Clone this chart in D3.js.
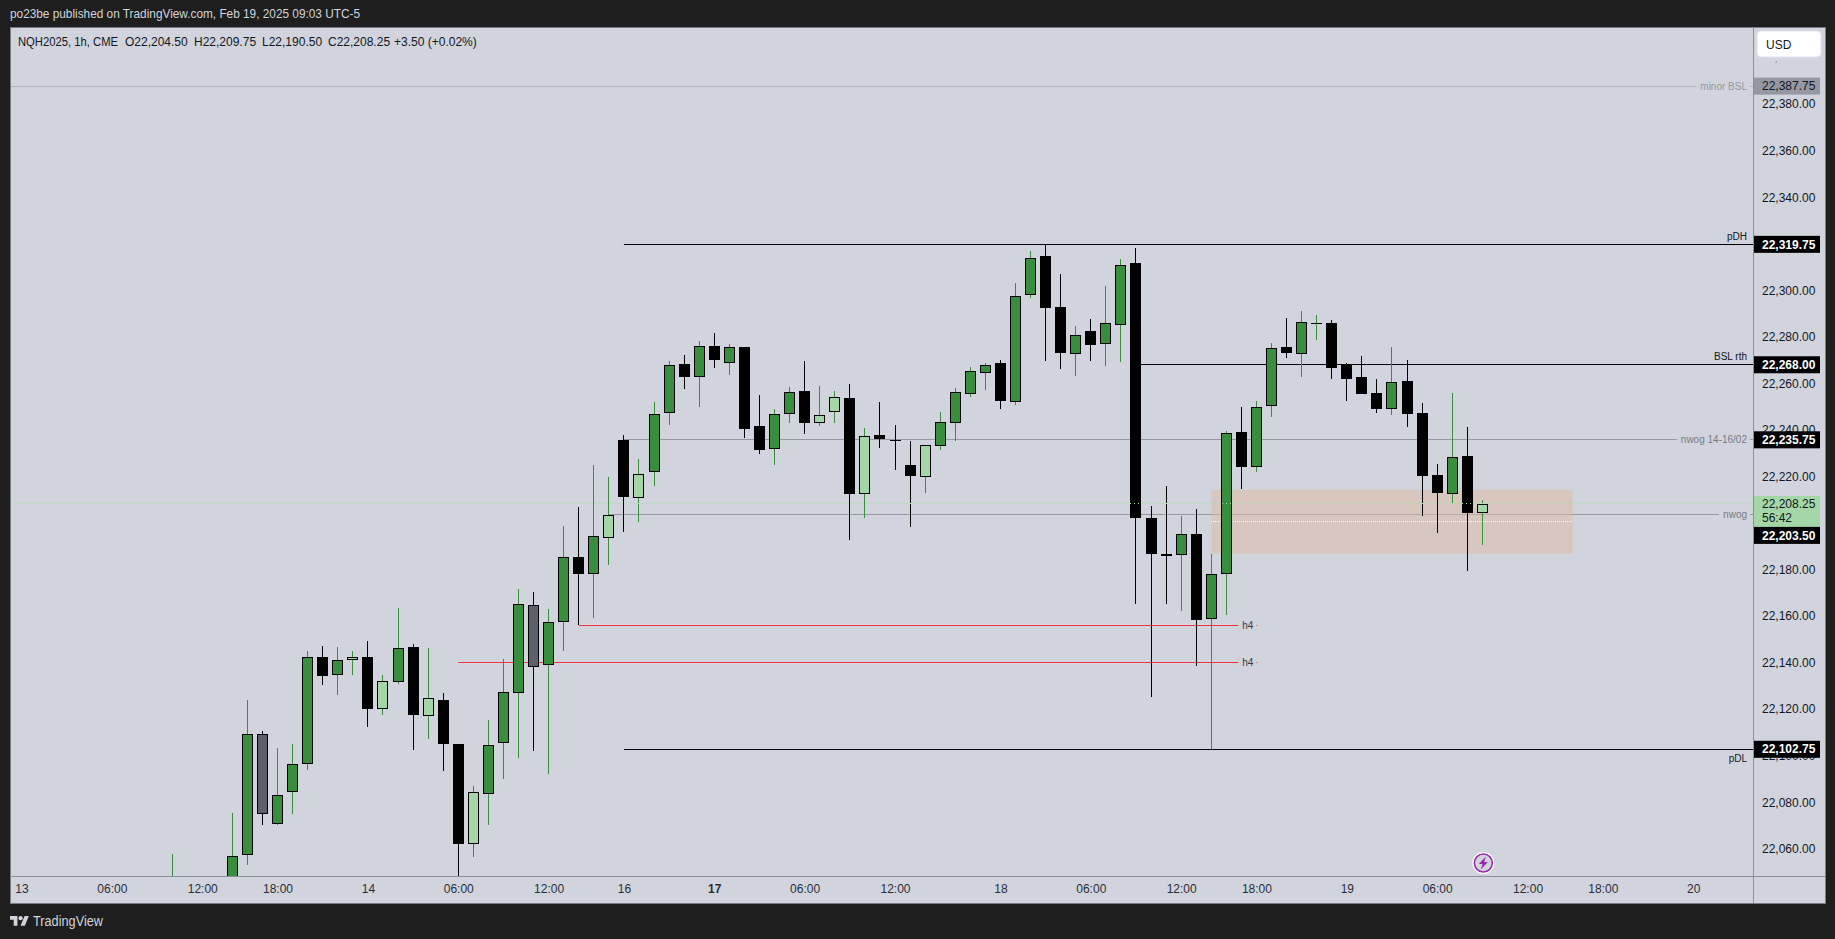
<!DOCTYPE html>
<html lang="en">
<head>
<meta charset="utf-8">
<title>NQH2025 1h</title>
<script src="https://cdn.jsdelivr.net/npm/d3@7"></script>
<style>
  html, body { margin: 0; padding: 0; background: #1e1e1e; overflow: hidden; }
  svg { display: block; }
  text { font-family: "Liberation Sans", sans-serif; }
</style>
</head>
<body>
<div id="chart"></div>
<script>
// bars 10..97, index counts trading hours from the 13th 00:00
var firstBar = 10;
var opens = [22030,22025,22020,22028,22035,22057.5,22109.5,22070.75,22084.5,22096.5,
  22142.5,22134.75,22141.25,22142.5,22120.25,22131.75,22146.75,22117.25,22124,22105,
  22062,22083.75,22105.25,22127,22164.75,22139,22157.5,22185.25,22178.25,22193.75,
  22235.5,22210.75,22221.75,22247.25,22268.25,22262.75,22276,22268.75,22275.75,22241.75,
  22232,22247,22256.75,22243,22247.75,22253.75,22212.5,22237.75,22235.5,22225,
  22219.75,22233.25,22243,22255.5,22264.5,22268.75,22252,22298,22314.75,22292.75,
  22272.75,22282.5,22276.75,22285.25,22311.75,22202.25,22186.75,22186.25,22195.25,22158.75,
  22178.25,22239,22224.25,22250.25,22275.75,22272.75,22285.75,22286,22267.75,22262.75,
  22255.75,22249,22261,22247.25,22220.5,22212.5,22228.75,22204.5];
var highs = [22057.75,22035,22030,22035,22075.25,22124,22110.5,22103.25,22105,22145,
  22147.25,22146.75,22145,22149.25,22134.75,22163.5,22148,22146.25,22127,22105,
  22087,22115.25,22141.5,22171.75,22170.25,22163,22198.75,22206.75,22225,22219.75,
  22237.75,22227.5,22252,22269.5,22272.25,22278.25,22281.75,22277,22275.75,22255,
  22249,22258.5,22269.5,22258.75,22256.75,22259.75,22240.75,22252,22242,22235.25,
  22233.5,22247.75,22258,22267,22268.75,22270,22303,22316.75,22319.75,22307,
  22284.75,22287.75,22301.75,22313.5,22318,22207.25,22215.75,22203,22206,22186.75,
  22239.5,22249.75,22252.5,22277.25,22288,22291,22289.25,22287.25,22268.75,22271.75,
  22261.75,22275.75,22270,22251.5,22225.25,22255.75,22241.25,22209.75];
var lows = [22020,22010,22010,22018,22030,22053,22070.25,22070.25,22075,22093.75,
  22130.25,22126,22134.75,22112.25,22117.5,22130.75,22102.5,22107.25,22093.5,22045,
  22056.5,22070.25,22090,22099,22102,22092,22145,22156,22159.25,22182,
  22196.25,22200.5,22215.75,22242,22257.5,22249.75,22266.5,22263.5,22236.5,22229.75,
  22225,22243,22238.25,22241.75,22243,22192.75,22202.25,22232.25,22222.75,22198.25,
  22212.75,22231.25,22235.25,22254,22257.25,22249,22250.75,22296.75,22269.5,22266.25,
  22263.25,22269.5,22267.5,22269.25,22165.25,22125.25,22165.25,22162.25,22138.5,22102.75,
  22160.5,22214.5,22222,22245.5,22270.75,22262.75,22278.75,22261.75,22252.5,22255.5,
  22247.25,22246.25,22241.25,22203,22195.75,22208.5,22179.25,22190.5];
var closes = [22040,22020,22028,22035,22056.75,22109.5,22074.75,22083,22096.25,22142.25,
  22134.25,22141,22142.25,22120,22132,22146.25,22117.5,22125,22105,22062,
  22084.25,22104.5,22127.25,22165,22138.25,22157.25,22185.25,22178.25,22194.25,22203.25,
  22211.25,22221.25,22246.75,22267.75,22262.75,22276.25,22270,22275.5,22240.25,22231.25,
  22246.75,22256.5,22243,22246.25,22254,22212.5,22237.25,22236,22235.25,22220,
  22233.5,22243.25,22256.5,22265.5,22267.75,22252.5,22297.5,22313.75,22292.25,22273,
  22281,22276.5,22285.75,22310.75,22202.25,22186.75,22185.75,22195.25,22158.25,22178.25,
  22238.5,22224,22249.75,22275,22273,22286.25,22285.75,22266.5,22261.75,22255.5,
  22249,22260.75,22246.75,22220,22212.75,22228.25,22204.25,22208.25];
var lightBars = [22,24,27,30,39,41,53,54,56,60,97];
var grayBars = [16,34];

// 22,200 and 22,320 sit fully behind the price labels, so they are left out
var priceTicks = [22060,22080,22100,22120,22140,22160,22180,22220,22240,22260,22280,22300,22340,22360,22380];
var timeTickBars = [0,6,12,17,23,29,35,40,46,52,58,65,71,77,82,88,94,100,105,111];
var timeTickLabels = ["13","06:00","12:00","18:00","14","06:00","12:00","16","17","06:00","12:00","18","06:00","12:00","18:00","19","06:00","12:00","18:00","20"];

var lastClose = 22208.25;
var zonePrices = [22186.75, 22214.25];
var zoneMid = 22200.75;
var zoneBars = [79, 103];

var w = 1835, h = 939;
var left = 10, right = 1825, top_ = 27, bottom = 903;
var paneRight = 1753, paneBottom = 876;

var x = d3.scaleLinear().domain([0, 111]).range([21.5, 1693.2]);
var y = d3.scaleLinear().domain([22048.3, 22413.15]).range([paneBottom, top_]);

var svg = d3.select("#chart").append("svg").attr("width", w).attr("height", h);

svg.append("rect").attr("width", w).attr("height", h).attr("fill", "#1e1e1e");
svg.append("rect")
  .attr("x", left + 0.5).attr("y", top_ + 0.5)
  .attr("width", right - left).attr("height", bottom - top_)
  .attr("fill", "#d1d4dc").attr("stroke", "#787b86");

svg.append("text").attr("x", 10).attr("y", 18).attr("fill", "#d1d4dc").attr("font-size", 13)
  .attr("textLength", 350).attr("lengthAdjust", "spacingAndGlyphs")
  .text("po23be published on TradingView.com, Feb 19, 2025 09:03 UTC-5");

// logo + wordmark at the bottom
svg.append("path")
  .attr("transform", "translate(10,914) scale(0.53)")
  .attr("fill", "#d1d4dc")
  .attr("d", "M14 22H7V11H0V4h14v18zM28 22h-8l7.5-18h8L28 22z");
svg.append("circle").attr("cx", 20.6).attr("cy", 918.2).attr("r", 2.1).attr("fill", "#d1d4dc");
svg.append("text").attr("x", 33).attr("y", 926).attr("fill", "#d1d4dc").attr("font-size", 14)
  .attr("textLength", 70).attr("lengthAdjust", "spacingAndGlyphs").text("TradingView");

svg.append("defs").append("clipPath").attr("id", "pane").append("rect")
  .attr("x", left + 1).attr("y", top_ + 1).attr("width", paneRight - left - 1).attr("height", paneBottom - top_ - 1);
var pane = svg.append("g").attr("clip-path", "url(#pane)");
var crisp = function(v) { return Math.floor(v) + 0.5; };

// horizontal level with an optional label; "inline" breaks the line around the label
function level(price, startX, endX, color, label, labelColor, mode, tail) {
  var ly = crisp(y(price));
  var t = tail === undefined ? 3 : tail;
  var lineEnd = endX;
  var tx = svg.append("text").attr("text-anchor", "end").attr("font-size", 10).attr("fill", labelColor).text(label);
  if (mode === "inline") {
    var textEnd = endX - t - 3;
    tx.attr("x", textEnd).attr("y", ly + 3.5);
    lineEnd = textEnd - tx.node().getComputedTextLength() - 4;
    pane.append("line").attr("x1", endX - t).attr("x2", endX).attr("y1", ly).attr("y2", ly).attr("stroke", color);
  } else if (mode === "above") {
    tx.attr("x", endX - 6).attr("y", ly - 5);
  } else {
    tx.attr("x", endX - 6).attr("y", ly + 12);
  }
  pane.append("line").attr("x1", startX).attr("x2", lineEnd).attr("y1", ly).attr("y2", ly).attr("stroke", color);
}

level(22387.75, left, paneRight, "#b2b5be", "minor BSL", "#9598a1", "inline");
level(22235.75, x(40), paneRight, "#9598a1", "nwog 14-16/02", "#787b86", "inline");
level(22203.5, x(39), paneRight, "#9598a1", "nwog", "#787b86", "inline");
level(22319.75, x(40), paneRight, "#000000", "pDH", "#131722", "above");
level(22268, x(74), paneRight, "#000000", "BSL rth", "#131722", "above");
level(22102.75, x(40), paneRight, "#000000", "pDL", "#131722", "below");
level(22156, x(37), x(82) + 1, "#f23645", "h4", "#363a45", "inline", 1);
level(22140.25, x(29), x(82) + 1, "#f23645", "h4", "#363a45", "inline", 1);

pane.append("rect")
  .attr("x", x(zoneBars[0])).attr("width", x(zoneBars[1]) - x(zoneBars[0]))
  .attr("y", y(zonePrices[1])).attr("height", y(zonePrices[0]) - y(zonePrices[1]))
  .attr("fill", "#deb9a2").attr("fill-opacity", 0.5);
pane.append("line")
  .attr("x1", Math.round(x(zoneBars[0]))).attr("x2", Math.round(x(zoneBars[1])))
  .attr("y1", crisp(y(zoneMid))).attr("y2", crisp(y(zoneMid)))
  .attr("stroke", "#ffffff").attr("stroke-dasharray", "1 1");

var bars = d3.range(opens.length).map(function(i) {
  return { bar: firstBar + i, o: opens[i], h: highs[i], l: lows[i], c: closes[i] };
});
var GREEN = "#388e3c", LIGHT = "#a5d6a7", GRAY = "#5d606b";

var candle = pane.selectAll("g.candle").data(bars).enter().append("g").attr("class", "candle")
  .attr("transform", function(d) { return "translate(" + Math.floor(x(d.bar)) + ",0)"; });
candle.append("line")
  .attr("x1", 0.5).attr("x2", 0.5)
  .attr("y1", function(d) { return Math.round(y(d.h)); })
  .attr("y2", function(d) { return Math.round(y(d.l)); })
  .attr("stroke", function(d) { return d.c >= d.o ? GREEN : "#000000"; });
// outer black box, inner fill
function bodyTop(d) { return Math.round(y(Math.max(d.o, d.c))); }
function bodyH(d) { return Math.max(1, Math.round(y(Math.min(d.o, d.c))) - bodyTop(d)); }
candle.append("rect")
  .attr("x", -5).attr("width", 11)
  .attr("y", bodyTop).attr("height", bodyH)
  .attr("fill", "#000000");
candle.filter(function(d) { return d.c >= d.o || grayBars.indexOf(d.bar) >= 0; }).append("rect")
  .attr("x", -4).attr("width", 9)
  .attr("y", function(d) { return bodyTop(d) + 1; })
  .attr("height", function(d) { return Math.max(0, bodyH(d) - 2); })
  .attr("fill", function(d) {
    if (grayBars.indexOf(d.bar) >= 0) return GRAY;
    return lightBars.indexOf(d.bar) >= 0 ? LIGHT : GREEN;
  });

pane.append("line")
  .attr("x1", left).attr("x2", paneRight)
  .attr("y1", crisp(y(lastClose))).attr("y2", crisp(y(lastClose)))
  .attr("stroke", LIGHT).attr("stroke-dasharray", "1 3");

// bolt marker under the last bar
var bolt = svg.append("g").attr("transform", "translate(" + (x(97) + 1) + ",863)");
bolt.append("circle").attr("r", 11).attr("fill", "#ffffff");
bolt.append("circle").attr("r", 9).attr("fill", "#d1d4dc").attr("stroke", "#9c27b0").attr("stroke-width", 1.5);
bolt.append("path").attr("d", "M2.5 -6.5L-4.5 1L-0.8 1L-2.5 6.5L4.5 -1L0.8 -1Z").attr("fill", "#9c27b0");

// axes
svg.append("line").attr("x1", paneRight + 0.5).attr("x2", paneRight + 0.5).attr("y1", top_).attr("y2", bottom).attr("stroke", "#8c8f99");
svg.append("line").attr("x1", left).attr("x2", right).attr("y1", paneBottom + 0.5).attr("y2", paneBottom + 0.5).attr("stroke", "#8c8f99");

var yAxis = svg.append("g")
  .attr("transform", "translate(" + paneRight + ",0)")
  .call(d3.axisRight(y).tickValues(priceTicks).tickSize(0).tickPadding(9).tickFormat(d3.format(",.2f")));
var xAxis = svg.append("g")
  .attr("transform", "translate(0," + paneBottom + ")")
  .call(d3.axisBottom(x).tickValues(timeTickBars).tickSize(0).tickPadding(8)
    .tickFormat(function(d) { return timeTickLabels[timeTickBars.indexOf(d)]; }));
yAxis.select(".domain").remove();
xAxis.select(".domain").remove();
yAxis.selectAll("text").attr("font-size", 12).attr("fill", "#131722").style("font-family", "'Liberation Sans', sans-serif");
xAxis.selectAll("text").attr("font-size", 12).attr("fill", "#2a2e39").style("font-family", "'Liberation Sans', sans-serif")
  .attr("font-weight", function(d) { return timeTickLabels[timeTickBars.indexOf(d)] === "17" ? "bold" : null; });

// legend line
var legendParts = ["NQH2025, 1h, CME", "O22,204.50", "H22,209.75", "L22,190.50", "C22,208.25", "+3.50 (+0.02%)"];
var legendX = [18, 125, 194, 262, 328, 394];
svg.selectAll("text.legend").data(legendParts).enter().append("text").attr("class", "legend")
  .attr("x", function(d, i) { return legendX[i]; }).attr("y", 45.5)
  .attr("font-size", 12).attr("fill", "#131722")
  .text(function(d) { return d; });
svg.select("text.legend").attr("textLength", 100).attr("lengthAdjust", "spacingAndGlyphs");

// USD button
svg.append("rect").attr("x", 1757).attr("y", 31).attr("width", 64).attr("height", 26).attr("rx", 4)
  .attr("fill", "#ffffff").attr("stroke", "#e0e3eb");
svg.append("text").attr("x", 1766).attr("y", 49).attr("font-size", 12).attr("fill", "#131722").text("USD");
svg.append("line").attr("x1", 1775.5).attr("x2", 1777).attr("y1", 62.5).attr("y2", 61.5).attr("stroke", "#787b86");

// price labels on the axis
function priceLabel(price, labelY, fill, color, weight) {
  svg.append("rect").attr("x", paneRight + 1).attr("y", labelY - 8.5).attr("width", 66).attr("height", 17)
    .attr("fill", fill);
  svg.append("text").attr("x", 1762).attr("y", labelY + 4.2).attr("font-size", 12).attr("fill", color)
    .attr("font-weight", weight).text(d3.format(",.2f")(price));
}
priceLabel(22387.75, y(22387.75), "#9598a1", "#131722", "normal");
priceLabel(22319.75, y(22319.75), "#000000", "#ffffff", "bold");
priceLabel(22268, y(22268), "#000000", "#ffffff", "bold");
priceLabel(22235.75, y(22235.75), "#000000", "#ffffff", "bold");
priceLabel(22102.75, y(22102.75), "#000000", "#ffffff", "bold");
// the close label holds two rows and pushes the nwog label down
svg.append("rect").attr("x", paneRight + 1).attr("y", 496).attr("width", 66).attr("height", 31).attr("fill", LIGHT);
svg.append("text").attr("x", 1762).attr("y", 508).attr("font-size", 12).attr("fill", "#131722").text(d3.format(",.2f")(lastClose));
svg.append("text").attr("x", 1762).attr("y", 522).attr("font-size", 12).attr("fill", "#131722").text("56:42");
priceLabel(22203.5, 535.4, "#000000", "#ffffff", "bold");
</script>
</body>
</html>
